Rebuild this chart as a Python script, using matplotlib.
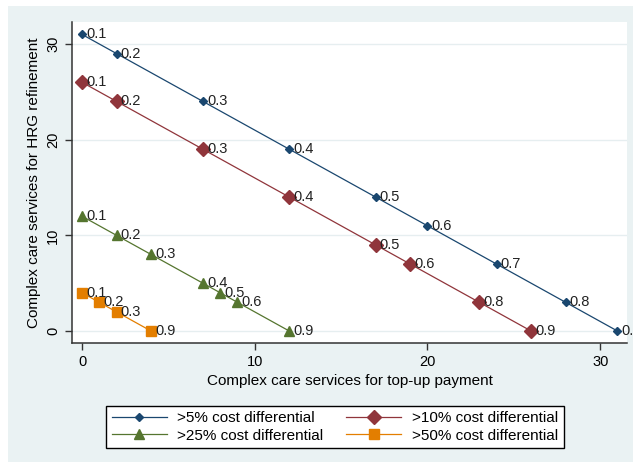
import matplotlib
matplotlib.use("Agg")
import matplotlib.pyplot as plt
from matplotlib.lines import Line2D

plt.rcParams['font.family'] = ['Liberation Sans', 'DejaVu Sans']

# >5% cost differential
x5 = [0, 2, 7, 12, 17, 20, 24, 28, 31]
y5 = [31, 29, 24, 19, 14, 11, 7, 3, 0]
lab5 = ['0.1', '0.2', '0.3', '0.4', '0.5', '0.6', '0.7', '0.8', '0.9']

# >10% cost differential
x10 = [0, 2, 7, 12, 17, 19, 23, 26]
y10 = [26, 24, 19, 14, 9, 7, 3, 0]
lab10 = ['0.1', '0.2', '0.3', '0.4', '0.5', '0.6', '0.8', '0.9']

# >25% cost differential
x25 = [0, 2, 4, 7, 8, 9, 12]
y25 = [12, 10, 8, 5, 4, 3, 0]
lab25 = ['0.1', '0.2', '0.3', '0.4', '0.5', '0.6', '0.9']

# >50% cost differential
x50 = [0, 1, 2, 4]
y50 = [4, 3, 2, 0]
lab50 = ['0.1', '0.2', '0.3', '0.9']

names = ['>5% cost differential', '>10% cost differential',
         '>25% cost differential', '>50% cost differential']
colors = ['#1a476f', '#90353b', '#55752f', '#e37e00']
markers = ['D', 'D', '^', 's']
msizes = [4.5, 7, 6.5, 6.5]

series = [(x5, y5, lab5), (x10, y10, lab10), (x25, y25, lab25), (x50, y50, lab50)]

fig = plt.figure(figsize=(6.33, 4.62), dpi=100)
fig.patch.set_facecolor('white')
# light blue-grey graph region
fig.patches.append(plt.Rectangle((8 / 633, 0), 1 - 8 / 633, 1 - 6 / 462,
                                 transform=fig.transFigure, facecolor='#eaf2f3',
                                 edgecolor='none', zorder=-1))

ax = fig.add_axes([72 / 633, 1 - 343 / 462, (627 - 72) / 633, (343 - 22) / 462])
ax.set_facecolor('white')

for (xs, ys, labs), c, m, ms in zip(series, colors, markers, msizes):
    ax.plot(xs, ys, color=c, lw=0.9, marker=m, ms=ms, mec=c, mfc=c, zorder=3,
            clip_on=False)
    for xi, yi, t in zip(xs, ys, labs):
        ax.annotate(t, (xi, yi), xytext=(3, 0), textcoords='offset points',
                    ha='left', va='center', fontsize=10.5, color='#222222',
                    annotation_clip=False)

ax.set_xlim(-0.58, 31.55)
ax.set_ylim(-1.25, 32.3)
ax.set_xticks([0, 10, 20, 30])
ax.set_yticks([0, 10, 20, 30])
ax.tick_params(axis='both', labelsize=10.5, length=5, width=1, color='#333333')
for lbl in ax.get_yticklabels():
    lbl.set_rotation(90)
    lbl.set_va('center')
ax.grid(axis='y', color='#e6eef0', lw=1)
ax.set_axisbelow(True)
for s in ['top', 'right']:
    ax.spines[s].set_visible(False)
for s in ['left', 'bottom']:
    ax.spines[s].set_color('#333333')
    ax.spines[s].set_linewidth(1.1)

ax.set_xlabel('Complex care services for top-up payment', fontsize=11, labelpad=4)
ax.set_ylabel('Complex care services for HRG refinement', fontsize=11, labelpad=4)

handles = [Line2D([0], [0], color=c, lw=0.9, marker=m, ms=ms, mec=c, mfc=c)
           for c, m, ms in zip(colors, markers, msizes)]
order = [0, 2, 1, 3]
leg = fig.legend([handles[i] for i in order], [names[i] for i in order],
                 loc='center', bbox_to_anchor=(335 / 633, 1 - 427 / 462),
                 ncol=2, fontsize=11, frameon=True, fancybox=False,
                 edgecolor='black', facecolor='white', framealpha=1,
                 handlelength=3.6, handletextpad=0.7, columnspacing=1.5,
                 borderpad=0.35, labelspacing=0.2)
leg.get_frame().set_linewidth(1)

fig.savefig('out.png', dpi=100)
